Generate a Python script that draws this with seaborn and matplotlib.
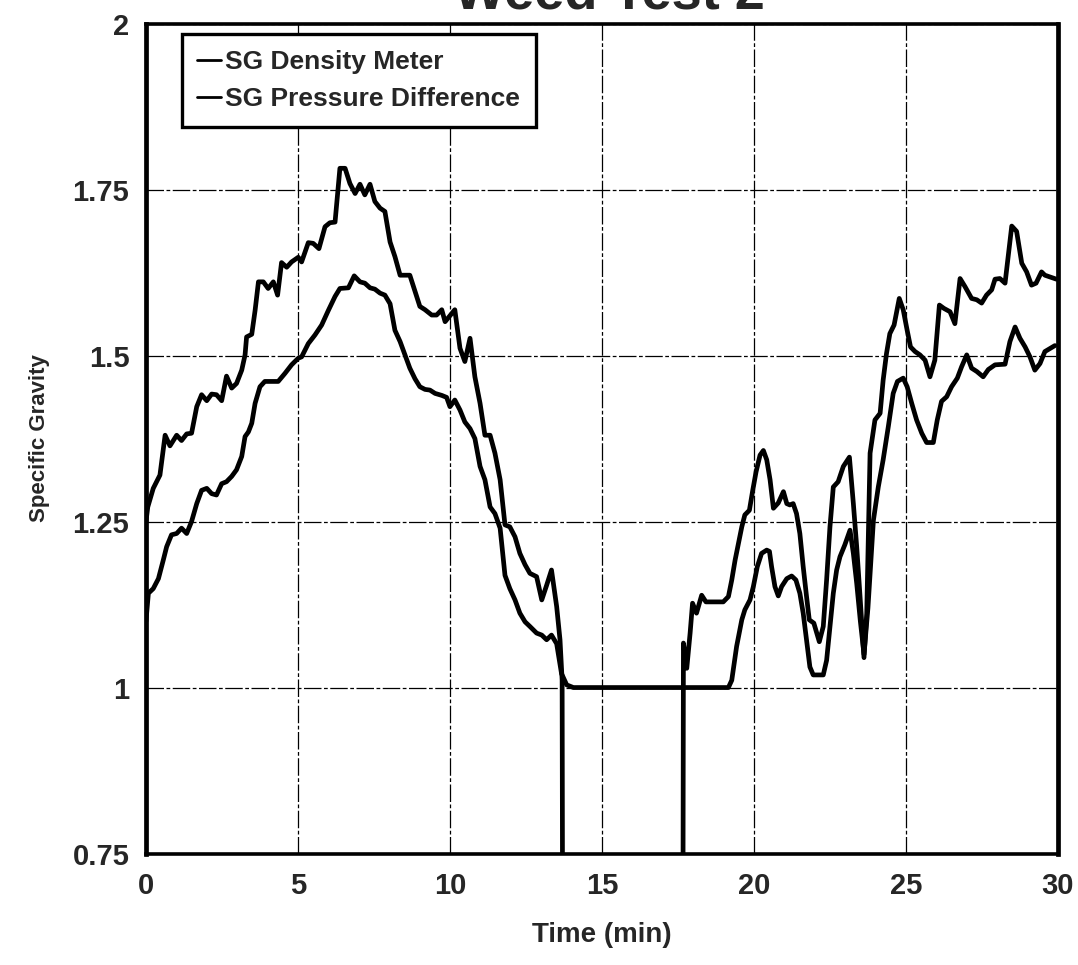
import matplotlib
matplotlib.use('Agg')
import matplotlib.pyplot as plt
import numpy as np
import pandas as pd
import seaborn as sns

# Time (min) and specific gravity
time_density = [0.0, 0.08, 0.24, 0.41, 0.57, 0.68, 0.84, 1.01, 1.17, 1.34, 1.50, 1.67, 1.83,
                2.00, 2.16, 2.32, 2.49, 2.65, 2.82, 2.98, 3.15, 3.26, 3.37, 3.48, 3.59, 3.75,
                3.91, 4.13, 4.35, 4.57, 4.79, 5.01, 5.12, 5.34, 5.56, 5.78, 6.00, 6.22, 6.38,
                6.66, 6.85, 7.04, 7.20, 7.37, 7.53, 7.70, 7.86, 8.03, 8.19, 8.36, 8.52, 8.68,
                8.85, 9.01, 9.18, 9.34, 9.51, 9.73, 9.89, 10.00, 10.16, 10.33, 10.49, 10.66,
                10.82, 10.99, 11.15, 11.32, 11.48, 11.65, 11.81, 11.97, 12.14, 12.30, 12.47,
                12.63, 12.85, 13.02, 13.18, 13.34, 13.51, 13.67, 13.84, 14.06, 16.00, 19.16,
                19.27, 19.43, 19.60, 19.70, 19.87, 19.98, 20.11, 20.25, 20.42, 20.51, 20.58,
                20.69, 20.80, 20.91, 21.08, 21.24, 21.38, 21.51, 21.62, 21.73, 21.84, 21.95,
                22.28, 22.39, 22.50, 22.61, 22.72, 22.83, 22.99, 23.16, 23.27, 23.38, 23.50,
                23.62, 23.75, 23.93, 24.09, 24.25, 24.42, 24.58, 24.72, 24.91, 25.04, 25.19,
                25.35, 25.52, 25.68, 25.90, 26.03, 26.17, 26.34, 26.50, 26.69, 26.83, 27.00,
                27.16, 27.33, 27.54, 27.71, 27.93, 28.26, 28.42, 28.59, 28.75, 28.92, 29.08,
                29.24, 29.41, 29.57, 29.90]
sg_density = [1.100, 1.142, 1.149, 1.164, 1.192, 1.212, 1.230, 1.232, 1.240, 1.232, 1.250,
              1.277, 1.297, 1.300, 1.292, 1.290, 1.307, 1.310, 1.318, 1.328, 1.348, 1.378,
              1.385, 1.398, 1.428, 1.453, 1.461, 1.461, 1.461, 1.473, 1.486, 1.496, 1.498,
              1.518, 1.531, 1.546, 1.568, 1.589, 1.601, 1.602, 1.620, 1.611, 1.609, 1.602,
              1.600, 1.594, 1.591, 1.578, 1.538, 1.521, 1.501, 1.481, 1.465, 1.453, 1.449,
              1.448, 1.443, 1.440, 1.437, 1.423, 1.433, 1.418, 1.400, 1.390, 1.375, 1.333,
              1.313, 1.272, 1.262, 1.240, 1.169, 1.149, 1.132, 1.112, 1.099, 1.092, 1.082,
              1.079, 1.072, 1.079, 1.066, 1.021, 1.004, 1.000, 1.000, 1.000, 1.011, 1.062,
              1.102, 1.117, 1.132, 1.152, 1.182, 1.202, 1.207, 1.205, 1.182, 1.152, 1.138,
              1.152, 1.164, 1.168, 1.162, 1.142, 1.112, 1.072, 1.031, 1.019, 1.019, 1.041,
              1.092, 1.142, 1.177, 1.197, 1.215, 1.237, 1.202, 1.157, 1.100, 1.050, 1.120,
              1.252, 1.302, 1.343, 1.393, 1.443, 1.461, 1.466, 1.453, 1.428, 1.403, 1.383,
              1.369, 1.369, 1.403, 1.431, 1.438, 1.453, 1.466, 1.483, 1.501, 1.481, 1.476,
              1.468, 1.479, 1.486, 1.487, 1.521, 1.543, 1.526, 1.513, 1.498, 1.478, 1.488,
              1.506, 1.515]

time_pressure = [0.0, 0.06, 0.24, 0.46, 0.63, 0.79, 1.01, 1.17, 1.34, 1.50, 1.67, 1.83, 2.00,
                 2.16, 2.32, 2.49, 2.65, 2.82, 2.98, 3.15, 3.26, 3.31, 3.48, 3.59, 3.70, 3.86,
                 4.02, 4.19, 4.33, 4.46, 4.63, 4.79, 5.01, 5.12, 5.34, 5.50, 5.69, 5.89, 6.05,
                 6.22, 6.38, 6.55, 6.71, 6.88, 7.04, 7.20, 7.37, 7.53, 7.70, 7.86, 8.03, 8.19,
                 8.36, 8.68, 9.01, 9.18, 9.40, 9.56, 9.73, 9.84, 10.00, 10.16, 10.33, 10.49,
                 10.66, 10.82, 10.99, 11.15, 11.32, 11.48, 11.65, 11.81, 11.97, 12.14, 12.30,
                 12.47, 12.63, 12.85, 13.02, 13.18, 13.34, 13.51, 13.62, 13.69, 13.73, 17.64,
                 17.68, 17.79, 17.90, 17.98, 18.11, 18.28, 18.42, 18.61, 18.99, 19.16, 19.27,
                 19.38, 19.49, 19.60, 19.70, 19.85, 19.96, 20.07, 20.20, 20.31, 20.42, 20.53,
                 20.64, 20.80, 20.97, 21.08, 21.18, 21.29, 21.40, 21.51, 21.62, 21.73, 21.82,
                 21.97, 22.15, 22.28, 22.39, 22.50, 22.61, 22.77, 22.94, 23.14, 23.27, 23.38,
                 23.49, 23.62, 23.71, 23.82, 23.98, 24.15, 24.25, 24.36, 24.47, 24.61, 24.78,
                 24.91, 25.04, 25.15, 25.30, 25.46, 25.63, 25.79, 25.95, 26.10, 26.25, 26.45,
                 26.61, 26.78, 26.94, 27.16, 27.33, 27.49, 27.65, 27.82, 27.93, 28.09, 28.26,
                 28.48, 28.64, 28.81, 28.97, 29.13, 29.28, 29.46, 29.57, 29.95]
sg_pressure = [1.250, 1.272, 1.300, 1.320, 1.380, 1.364, 1.380, 1.372, 1.382, 1.383, 1.423,
               1.441, 1.432, 1.442, 1.441, 1.432, 1.469, 1.451, 1.458, 1.478, 1.501, 1.528,
               1.532, 1.568, 1.611, 1.611, 1.601, 1.611, 1.591, 1.640, 1.633, 1.641, 1.648,
               1.641, 1.670, 1.669, 1.661, 1.694, 1.700, 1.701, 1.782, 1.782, 1.759, 1.744,
               1.758, 1.742, 1.758, 1.732, 1.722, 1.717, 1.671, 1.649, 1.621, 1.621, 1.574,
               1.569, 1.561, 1.561, 1.569, 1.551, 1.560, 1.569, 1.511, 1.491, 1.526, 1.468,
               1.428, 1.380, 1.380, 1.353, 1.313, 1.245, 1.242, 1.227, 1.202, 1.185, 1.172,
               1.167, 1.132, 1.154, 1.177, 1.122, 1.072, 1.011, 0.000, 0.000, 1.067, 1.029,
               1.082, 1.127, 1.112, 1.139, 1.129, 1.129, 1.129, 1.137, 1.162, 1.192, 1.217,
               1.242, 1.260, 1.267, 1.297, 1.325, 1.350, 1.357, 1.343, 1.313, 1.270, 1.278,
               1.295, 1.277, 1.275, 1.277, 1.262, 1.232, 1.182, 1.137, 1.102, 1.097, 1.069,
               1.092, 1.162, 1.242, 1.302, 1.310, 1.333, 1.347, 1.277, 1.212, 1.137, 1.045,
               1.112, 1.353, 1.403, 1.413, 1.463, 1.503, 1.533, 1.546, 1.586, 1.569, 1.538,
               1.513, 1.506, 1.501, 1.493, 1.468, 1.493, 1.576, 1.571, 1.566, 1.548, 1.616,
               1.604, 1.586, 1.584, 1.579, 1.591, 1.599, 1.615, 1.616, 1.609, 1.695, 1.687,
               1.639, 1.626, 1.606, 1.609, 1.626, 1.621, 1.615]

series_names = ['SG Density Meter', 'SG Pressure Difference']
x_ticks = [0, 5, 10, 15, 20, 25, 30]
y_ticks = [0.75, 1.0, 1.25, 1.5, 1.75, 2.0]
y_tick_labels = ['0.75', '1', '1.25', '1.5', '1.75', '2']

df = pd.concat([
    pd.DataFrame({'Time': time_density, 'SG': sg_density, 'Series': series_names[0]}),
    pd.DataFrame({'Time': time_pressure, 'SG': sg_pressure, 'Series': series_names[1]}),
])

sns.set_style('white')
plt.rcParams['font.family'] = ['Liberation Sans', 'DejaVu Sans']
plt.rcParams['font.weight'] = 'bold'

fig = plt.figure(figsize=(10.78, 9.65), dpi=100)
ax = fig.add_axes([0.1354, 0.1155, 0.8460, 0.8601])

sns.lineplot(data=df, x='Time', y='SG', hue='Series', palette=['black', 'black'],
             estimator=None, sort=False, linewidth=3.4, ax=ax)

ax.set_xlim(0, 30)
ax.set_ylim(0.75, 2.0)
ax.set_xticks(x_ticks)
ax.set_xticklabels([str(v) for v in x_ticks])
ax.set_yticks(y_ticks)
ax.set_yticklabels(y_tick_labels)
ax.set_yticks(np.arange(0.75, 2.0, 0.05), minor=True)

ax.grid(True, which='major', color='black', linestyle=(0, (14, 2, 3, 2)), linewidth=0.9)
ax.tick_params(axis='both', which='major', direction='in', labelsize=21, width=2)
ax.tick_params(axis='y', which='major', length=12, pad=12)
ax.tick_params(axis='x', which='major', length=6, pad=13)
ax.tick_params(axis='y', which='minor', direction='in', length=6, width=2)

for side in ['left', 'right']:
    ax.spines[side].set_linewidth(3.4)
for side in ['top', 'bottom']:
    ax.spines[side].set_linewidth(2.6)
for s in ax.spines.values():
    s.set_color('black')

ax.set_xlabel('Time (min)', fontsize=20, fontweight='bold', labelpad=16)
ax.set_ylabel('Specific Gravity', fontsize=16, fontweight='bold', labelpad=16)

handles, labels = ax.get_legend_handles_labels()
leg = ax.legend(handles, labels, loc='upper left', bbox_to_anchor=(0.039, 0.987),
                fontsize=19, frameon=True, fancybox=False, handlelength=0.9,
                handletextpad=0.15, borderpad=0.6, labelspacing=0.5, borderaxespad=0)
leg.get_frame().set_edgecolor('black')
leg.get_frame().set_linewidth(2.4)
leg.get_frame().set_alpha(1)
for line in leg.get_lines():
    line.set_linewidth(2)
for txt in leg.get_texts():
    txt.set_fontweight('bold')

fig.text(0.565, 0.991, 'Weed Test 2', fontsize=39, fontweight='bold',
         ha='center', va='baseline')

fig.savefig('out.png', dpi=100)
